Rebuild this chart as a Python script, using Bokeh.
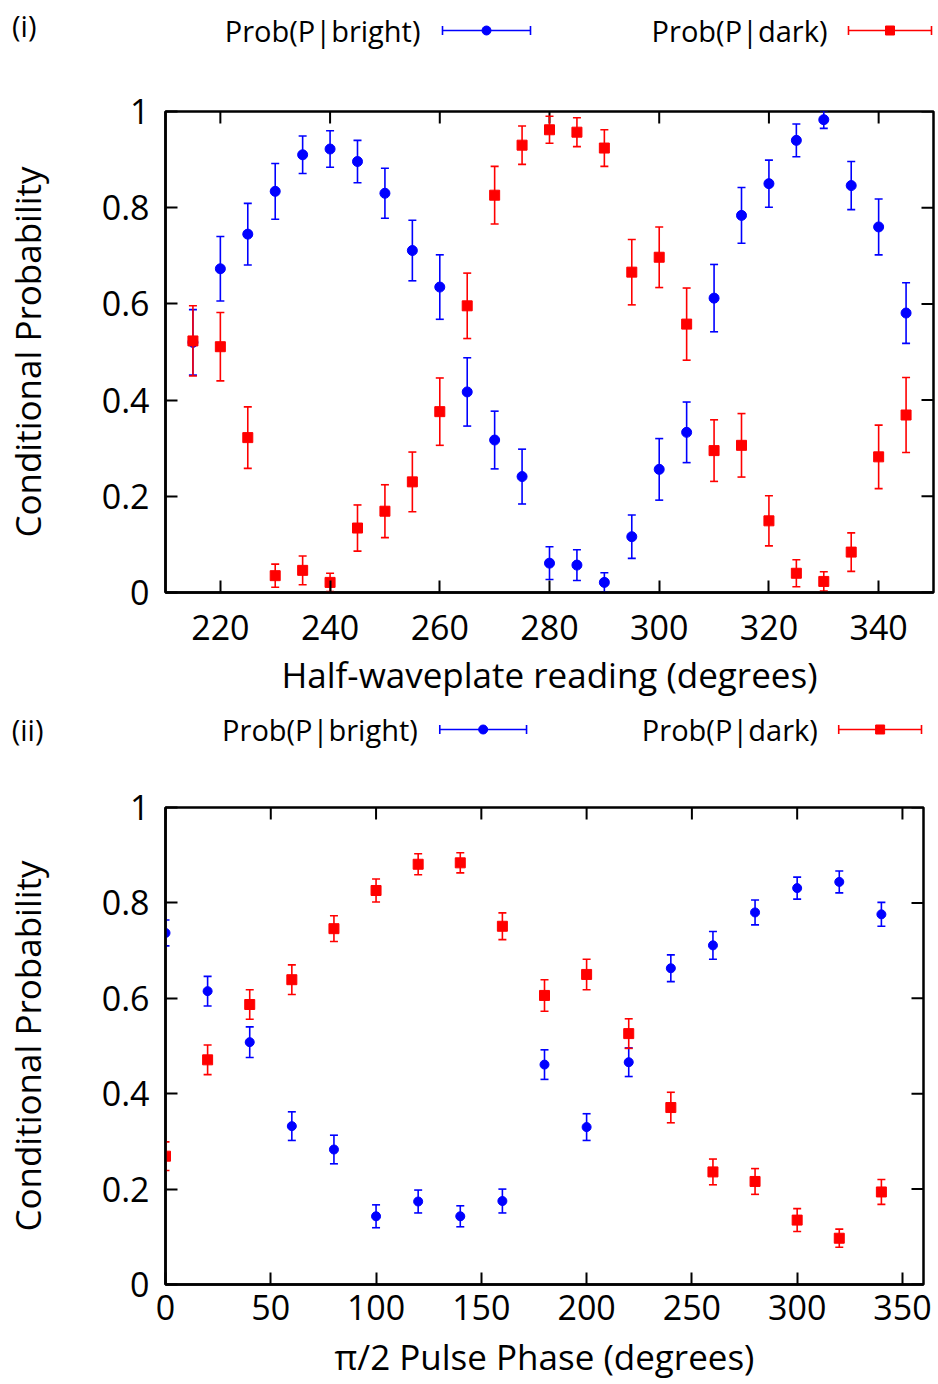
import numpy as np
from bokeh.plotting import figure
from bokeh.layouts import column
from bokeh.models import FixedTicker, Range1d
from bokeh.embed import file_html
from bokeh.resources import INLINE
from bokeh.core.properties import value

FONT = "Open Sans"
BLUE = "#0000ff"
RED = "#ff0000"

# ---------------- Panel (i) data ----------------
hwp_angle = [215, 220, 225, 230, 235, 240, 245, 250, 255, 260, 265, 270, 275, 280,
             285, 290, 295, 300, 305, 310, 315, 320, 325, 330, 335, 340, 345]
bright_i = [0.520, 0.673, 0.745, 0.834, 0.910, 0.922, 0.896, 0.830, 0.711, 0.635, 0.417, 0.317, 0.241, 0.061,
            0.057, 0.021, 0.116, 0.256, 0.333, 0.612, 0.784, 0.850, 0.940, 0.983, 0.846, 0.760, 0.581]
bright_i_err = [0.068, 0.067, 0.064, 0.058, 0.039, 0.038, 0.044, 0.052, 0.063, 0.067, 0.071, 0.060, 0.057, 0.034,
                0.032, 0.020, 0.045, 0.064, 0.063, 0.070, 0.058, 0.049, 0.034, 0.018, 0.050, 0.058, 0.063]
dark_i = [0.523, 0.511, 0.322, 0.035, 0.046, 0.021, 0.134, 0.169, 0.230, 0.376, 0.596, 0.826, 0.930, 0.962,
          0.957, 0.924, 0.666, 0.697, 0.558, 0.295, 0.306, 0.149, 0.040, 0.023, 0.084, 0.282, 0.369]
dark_i_err = [0.073, 0.071, 0.064, 0.024, 0.030, 0.019, 0.048, 0.055, 0.062, 0.070, 0.068, 0.060, 0.040, 0.028,
              0.030, 0.038, 0.068, 0.063, 0.075, 0.064, 0.066, 0.052, 0.028, 0.020, 0.040, 0.066, 0.078]
x_ticks_i = [220, 240, 260, 280, 300, 320, 340]
x_tick_labels_i = ["220", "240", "260", "280", "300", "320", "340"]

# ---------------- Panel (ii) data ----------------
pulse_phase = [0, 20, 40, 60, 80, 100, 120, 140, 160, 180, 200, 220, 240, 260, 280, 300, 320, 340]
bright_ii = [0.737, 0.615, 0.508, 0.332, 0.283, 0.143, 0.174, 0.143, 0.175, 0.461, 0.330, 0.466, 0.663, 0.711,
             0.780, 0.831, 0.844, 0.776]
bright_ii_err = [0.027, 0.031, 0.032, 0.030, 0.030, 0.024, 0.024, 0.022, 0.025, 0.031, 0.028, 0.030, 0.028, 0.029,
                 0.026, 0.023, 0.023, 0.025]
dark_ii = [0.269, 0.471, 0.587, 0.639, 0.746, 0.826, 0.881, 0.884, 0.751, 0.606, 0.650, 0.526, 0.371, 0.236,
           0.216, 0.135, 0.097, 0.194]
dark_ii_err = [0.030, 0.031, 0.031, 0.031, 0.027, 0.024, 0.022, 0.021, 0.028, 0.033, 0.032, 0.031, 0.032, 0.027,
               0.027, 0.024, 0.019, 0.026]
x_ticks_ii = [0, 50, 100, 150, 200, 250, 300, 350]
x_tick_labels_ii = ["0", "50", "100", "150", "200", "250", "300", "350"]

y_ticks = [0.0, 0.2, 0.4, 0.6, 0.8, 1.0]
y_tick_labels = ["0", "0.2", "0.4", "0.6", "0.8", "1"]

series_names = ["Prob(P|bright)", "Prob(P|dark)"]
panel_tags = ["(i)", "(ii)"]
x_labels = ["Half-waveplate reading (degrees)", "\u03c0/2 Pulse Phase (degrees)"]
y_label = "Conditional Probability"


def errorbars(p, x, y, err, color, marker, size):
    x = np.asarray(x, float)
    y = np.asarray(y, float)
    e = np.asarray(err, float)
    p.segment(x0=x, y0=y - e, x1=x, y1=y + e, line_color=color, line_width=1.6)
    p.scatter(x=np.concatenate([x, x]), y=np.concatenate([y - e, y + e]), marker="dash",
              size=8, line_color=color, line_width=1.6)
    p.scatter(x=x, y=y, marker=marker, size=size, fill_color=color, line_color=color)


def legend_strip(tag, frame_x, height, frame_h, ylegend, tag_standoff, xt1, xg1, xt2, xg2):
    # strip whose horizontal frame coincides with the panel frame below it
    s = figure(width=938, height=height, x_range=Range1d(*frame_x), y_range=Range1d(frame_h, 0),
               toolbar_location=None, output_backend="svg",
               min_border_left=frame_x[0], min_border_right=938 - frame_x[1],
               min_border_top=0, min_border_bottom=height - frame_h,
               x_axis_location=None, y_axis_location="left", outline_line_color=None)
    s.grid.visible = False
    ax = s.yaxis[0]
    ax.ticker = FixedTicker(ticks=[])
    ax.axis_line_color = None
    ax.major_tick_line_color = None
    ax.minor_tick_line_color = None
    ax.axis_label = tag
    ax.axis_label_orientation = "horizontal"
    ax.axis_label_standoff = tag_standoff
    ax.axis_label_text_font = FONT
    ax.axis_label_text_font_size = "29px"
    ax.axis_label_text_font_style = "normal"
    ax.axis_label_text_color = "black"
    s.text(x=[xt1, xt2], y=[ylegend, ylegend], text=series_names, text_align="right",
           text_baseline="middle", text_font=value(FONT), text_font_size="29px", text_color="black")
    for (g0, g1), col, mk in [(xg1, BLUE, "circle"), (xg2, RED, "square")]:
        s.segment(x0=[g0], y0=[ylegend], x1=[g1], y1=[ylegend], line_color=col, line_width=1.6)
        s.scatter(x=[g0, g1], y=[ylegend, ylegend], marker="dash", angle=np.pi / 2, size=9,
                  line_color=col, line_width=1.6)
        s.scatter(x=[(g0 + g1) / 2], y=[ylegend], marker=mk, size=9, fill_color=col, line_color=col)
    return s


def panel(xr, xt, xtl, xlabel, height, borders, xstand):
    p = figure(width=938, height=height, x_range=Range1d(*xr), y_range=Range1d(0, 1),
               toolbar_location=None, output_backend="svg",
               min_border_left=borders[0], min_border_right=borders[1],
               min_border_top=borders[2], min_border_bottom=borders[3])
    p.grid.visible = False
    p.outline_line_color = "black"
    p.outline_line_width = 2.5
    p.outline_line_alpha = 1.0
    p.xaxis.ticker = FixedTicker(ticks=xt)
    p.xaxis.major_label_overrides = dict(zip(xt, xtl))
    p.yaxis.ticker = FixedTicker(ticks=y_ticks)
    p.yaxis.major_label_overrides = dict(zip(y_ticks, y_tick_labels))
    p.xaxis.axis_label = xlabel
    p.yaxis.axis_label = y_label
    for ax in [p.xaxis[0], p.yaxis[0]]:
        ax.axis_line_width = 2.5
        ax.major_tick_in = 12
        ax.major_tick_out = 0
        ax.major_tick_line_width = 2
        ax.minor_tick_line_color = None
        ax.major_label_text_font = FONT
        ax.major_label_text_font_size = "34px"
        ax.major_label_text_color = "black"
        ax.axis_label_text_font = FONT
        ax.axis_label_text_font_size = "35px"
        ax.axis_label_text_font_style = "normal"
        ax.axis_label_text_color = "black"
    p.xaxis.major_label_standoff = xstand[0]
    p.xaxis.axis_label_standoff = xstand[1]
    p.yaxis.major_label_standoff = 16
    p.yaxis.axis_label_standoff = 48
    # mirrored inward ticks on the top and right frame edges (half of each dash is clipped away)
    p.scatter(x=xt, y=[y_ticks[-1]] * len(xt), marker="dash", angle=np.pi / 2, size=24,
              line_color="black", line_width=2)
    p.scatter(x=[xr[1]] * len(y_ticks), y=y_ticks, marker="dash", size=24,
              line_color="black", line_width=2)
    return p


s1 = legend_strip(panel_tags[0], (165, 933), 70, 50, 30, 129, 420, (442, 530), 827, (848, 931))
p1 = panel((210, 350), x_ticks_i, x_tick_labels_i, x_labels[0], 630, (165, 5, 41, 108), (22, 8))
errorbars(p1, hwp_angle, bright_i, bright_i_err, BLUE, "circle", 10)
errorbars(p1, hwp_angle, dark_i, dark_i_err, RED, "square", 10)

s2 = legend_strip(panel_tags[1], (163, 923), 66, 58, 29, 122, 416, (438, 525), 817, (838, 921))
p2 = panel((0, 360), x_ticks_ii, x_tick_labels_ii, x_labels[1], 618, (163, 15, 41, 100), (10, 10))
errorbars(p2, pulse_phase, bright_ii, bright_ii_err, BLUE, "circle", 9)
errorbars(p2, pulse_phase, dark_ii, dark_ii_err, RED, "square", 10)

layout = column(column(s1, p1, spacing=0), column(s2, p2, spacing=0), spacing=0)
open("out.html", "w").write(file_html(layout, INLINE))
